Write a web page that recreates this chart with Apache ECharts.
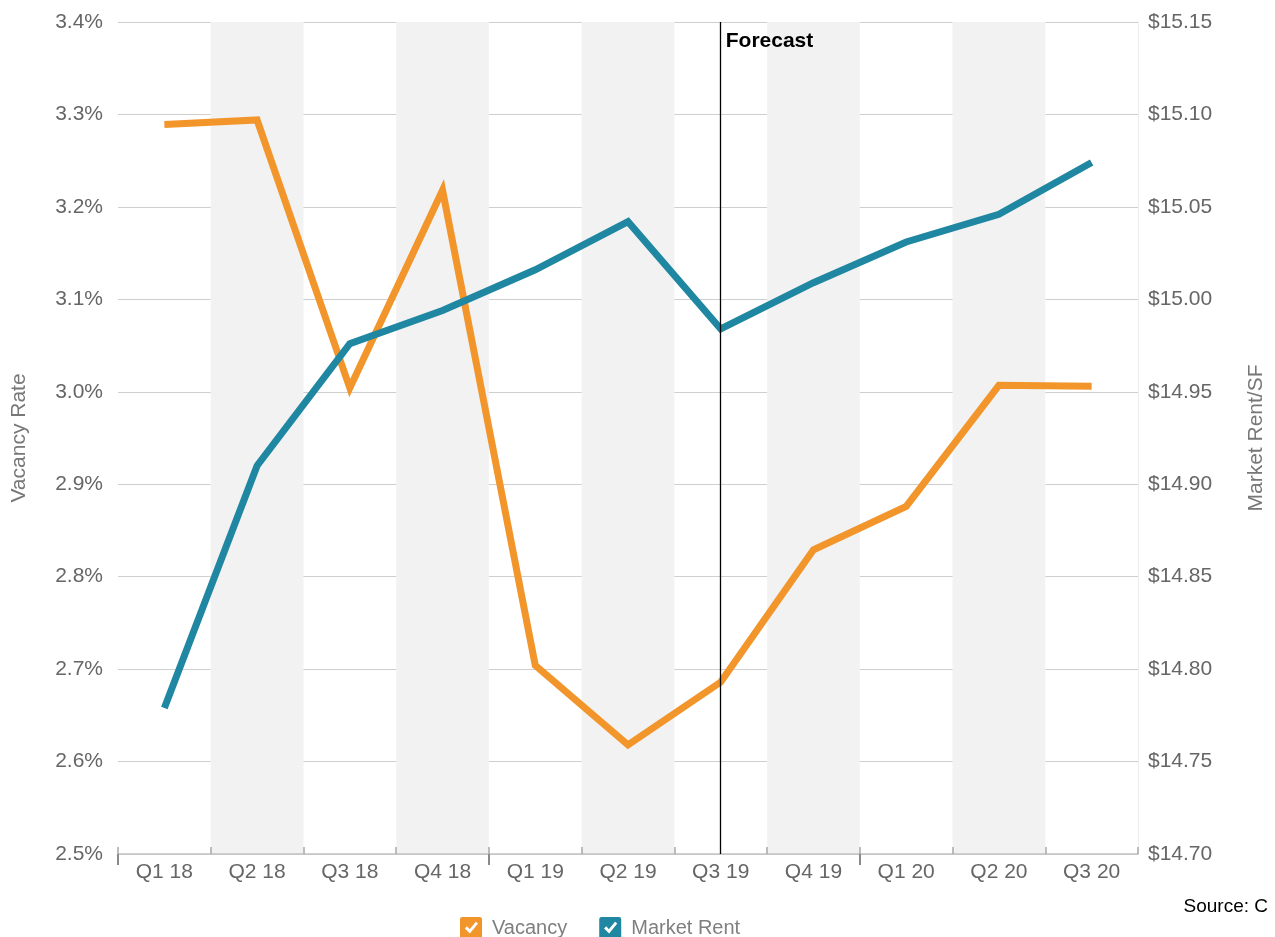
<!DOCTYPE html>
<html>
<head>
<meta charset="utf-8">
<script src="https://cdn.jsdelivr.net/npm/echarts@6/dist/echarts.min.js"></script>
<style>
html,body{margin:0;padding:0;background:#fff;overflow:hidden;}
#chart{width:1275px;height:937px;}
</style>
</head>
<body>
<div id="chart"></div>
<script>
var categories = ['Q1 18','Q2 18','Q3 18','Q4 18','Q1 19','Q2 19','Q3 19','Q4 19','Q1 20','Q2 20','Q3 20'];
var vacancy = [3.289, 3.294, 3.004, 3.218, 2.704, 2.618, 2.686, 2.829, 2.876, 3.007, 3.006];
var marketRent = [14.779, 14.910, 14.976, 14.994, 15.016, 15.042, 14.984, 15.009, 15.031, 15.046, 15.074];
var forecastStart = 'Q3 19';
var yearBoundaries = [-0.5, 3.5, 7.5];

var FONT = '"Liberation Sans", Arial, sans-serif';
var checkIcon = 'path://M10,0 H90 Q100,0 100,10 V90 Q100,100 90,100 H10 Q0,100 0,90 V10 Q0,0 10,0 Z M22,52 L45,75 L82,30 L72,22 L44,56 L32,42 Z';

var chart = echarts.init(document.getElementById('chart'), null, {renderer: 'canvas', width: 1275, height: 937});
chart.setOption({
  backgroundColor: '#ffffff',
  animation: false,
  textStyle: {fontFamily: FONT},
  title: {
    text: 'Source: C',
    right: 2, top: 892,
    textStyle: {fontFamily: FONT, fontSize: 19, fontWeight: 'normal', color: '#000'}
  },
  legend: {
    left: 455, top: 912,
    itemWidth: 22, itemHeight: 22, itemGap: 32,
    icon: checkIcon,
    textStyle: {fontFamily: FONT, fontSize: 20, color: '#7f7f7f', padding: [0, 0, 0, 5]},
    data: ['Vacancy', 'Market Rent']
  },
  grid: {left: 118, right: 134, top: 22, bottom: 83, containLabel: false},
  xAxis: [{
    type: 'category',
    data: categories,
    boundaryGap: true,
    axisLine: {show: true, lineStyle: {color: '#c4c4c4', width: 1.5}},
    axisTick: {show: true, interval: 0, inside: true, length: 7, lineStyle: {color: '#a8a8a8', width: 1.5}},
    axisLabel: {interval: 0, margin: 8, fontSize: 21, color: '#666', fontFamily: FONT},
    splitArea: {show: true, interval: 0, areaStyle: {color: ['rgba(255,255,255,0)', '#f2f2f2']}},
    splitLine: {show: false}
  }, {
    type: 'value',
    position: 'bottom',
    min: -0.5, max: 10.5,
    axisLine: {show: false},
    axisLabel: {show: false},
    splitLine: {show: false},
    axisTick: {show: true, inside: false, length: 11, customValues: yearBoundaries, lineStyle: {color: '#8a8a8a', width: 2}}
  }],
  yAxis: [{
    type: 'value',
    min: 2.5, max: 3.4, interval: 0.1,
    name: 'Vacancy Rate',
    nameLocation: 'middle', nameGap: 88, nameRotate: 90,
    nameTextStyle: {fontFamily: FONT, fontSize: 21, color: '#777'},
    axisLine: {show: false},
    axisTick: {show: false},
    axisLabel: {margin: 15, fontSize: 21, color: '#666', fontFamily: FONT,
      formatter: function (v) { return v.toFixed(1) + '%'; }},
    splitLine: {show: true, lineStyle: {color: '#cfcfcf', width: 1.2}}
  }, {
    type: 'value',
    min: 14.70, max: 15.15, interval: 0.05,
    name: 'Market Rent/SF',
    nameLocation: 'middle', nameGap: 108, nameRotate: 90,
    nameTextStyle: {fontFamily: FONT, fontSize: 21, color: '#777'},
    position: 'right',
    axisLine: {show: true, lineStyle: {color: '#ececec', width: 1}},
    axisTick: {show: false},
    axisLabel: {margin: 10, fontSize: 21, color: '#666', fontFamily: FONT,
      formatter: function (v) { return '$' + v.toFixed(2); }},
    splitLine: {show: false}
  }],
  series: [{
    name: 'Vacancy',
    type: 'line',
    xAxisIndex: 0, yAxisIndex: 0,
    data: vacancy,
    color: '#f2962c',
    symbol: 'none',
    lineStyle: {width: 7, color: '#f2962c', join: 'miter', cap: 'butt'},
    z: 3,
    markLine: {
      silent: true,
      symbol: ['none', 'none'],
      label: {show: false},
      lineStyle: {color: '#000', width: 1.3, type: 'solid'},
      data: [{xAxis: forecastStart}],
      z: 5
    },
    markPoint: {
      silent: true,
      symbol: 'circle', symbolSize: 0,
      data: [{coord: [forecastStart, 3.4]}],
      label: {show: true, formatter: 'Forecast', position: [5, 9],
        fontFamily: FONT, fontSize: 21, fontWeight: 'bold', color: '#000'}
    }
  }, {
    name: 'Market Rent',
    type: 'line',
    xAxisIndex: 0, yAxisIndex: 1,
    data: marketRent,
    color: '#1f87a1',
    symbol: 'none',
    lineStyle: {width: 7, color: '#1f87a1', join: 'miter', cap: 'butt'},
    z: 4
  }]
});
</script>
</body>
</html>
